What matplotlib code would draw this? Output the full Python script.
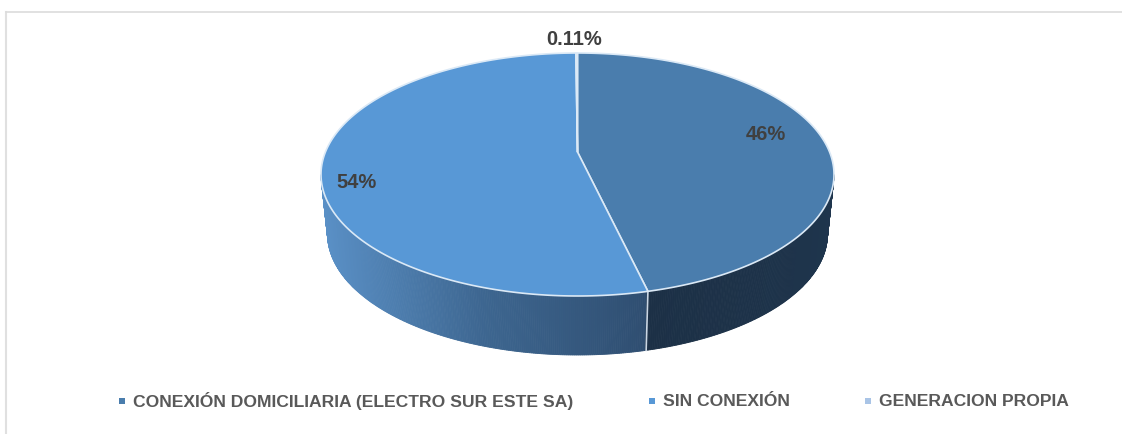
import numpy as np
import matplotlib
matplotlib.use("Agg")
import matplotlib.pyplot as plt
from matplotlib.colors import LinearSegmentedColormap

labels = ["CONEXIÓN DOMICILIARIA (ELECTRO SUR ESTE SA)", "SIN CONEXIÓN", "GENERACION PROPIA"]
values = [45.89, 54.0, 0.11]
value_labels = ["46%", "54%", "0.11%"]
colors = ["#4a7dad", "#5898d6", "#a9c4e6"]

plt.rcParams['font.family'] = ['Liberation Sans']

# everything is placed in image pixels
fig = plt.figure(figsize=(11.22, 4.34), dpi=100)
ax = fig.add_axes([0, 0, 1, 1])
ax.set_xlim(0, 1122)
ax.set_ylim(434, 0)
ax.axis('off')

# chart border, only left and top show in the crop
ax.plot([6.5, 6.5], [434, 11.5], color="#e0e0e0", lw=1.5)
ax.plot([6.5, 1122], [11.5, 11.5], color="#dcdcdc", lw=1.2)

cx, top_cy, a, b = 577.5, 174.5, 256.5, 121.5
low_a, low_cy, low_b = 250.0, 234.0, 121.0
apex = (577.5, 152)
q = 0.075  # perspective pushes the slice angles towards the viewer


def warp(deg):
    t = np.radians(deg)
    u, v = np.sin(t), np.cos(t)
    d = 1 + q * v
    return np.arctan2(u * np.sqrt(1 - q ** 2) / d, (v + q) / d) % (2 * np.pi)


def top_pt(t):
    return cx + a * np.sin(t), top_cy - b * np.cos(t)


def low_pt(t):
    return cx + low_a * np.sin(t), low_cy - low_b * np.cos(t)


edges = np.cumsum([0] + values) / sum(values) * 360

# side wall, front half only
left_wall = LinearSegmentedColormap.from_list("l", ["#2f4e71", "#3d6690", "#5a90c6"])
right_wall = LinearSegmentedColormap.from_list("r", ["#1f364e", "#1c3046"])
split = warp(edges[1])
split_x = top_pt(split)[0]
ts = np.linspace(np.pi / 2, 3 * np.pi / 2, 400)
for t0, t1 in zip(ts[:-1], ts[1:]):
    xs0, ys0 = top_pt(t0)
    xs1, ys1 = top_pt(t1)
    xb0, yb0 = low_pt(t0)
    xb1, yb1 = low_pt(t1)
    if t0 < split:
        c = right_wall((t0 - np.pi / 2) / (split - np.pi / 2))
    else:
        c = left_wall((split_x - xs0) / (split_x - (cx - a)))
    ax.fill([xs0, xs1, xb1, xb0], [ys0, ys1, yb1, yb0], color=c, lw=0.6, zorder=2)
ax.plot(*zip(top_pt(split), low_pt(split)), color="#c9d6e4", lw=1.2, zorder=3)

# top face
for i in range(3):
    ang = np.linspace(edges[i], edges[i + 1], 200)
    t = np.unwrap(np.array([warp(d) for d in ang]))
    px, py = top_pt(t)
    ax.fill(np.r_[apex[0], px], np.r_[apex[1], py], facecolor=colors[i],
            edgecolor="#dbe9f6", lw=1.2, zorder=4, joinstyle='round')

# data labels
label_pos = [(766, 140), (356.5, 188), (574.5, 45)]
for txt, (x, y) in zip(value_labels, label_pos):
    ax.text(x, y, txt, ha='center', va='baseline', fontsize=14.5, fontweight='bold',
            color="#404040", zorder=5)

# legend
legend_x = [122, 652.5, 868]
for i, lab in enumerate(labels):
    ax.scatter(legend_x[i], 400.5, marker='s', s=24, color=colors[i], lw=0)
    ax.text(legend_x[i] + 11, 406.5, lab, ha='left', va='baseline', fontsize=12.6,
            fontweight='bold', color="#595959")

fig.savefig("out.png", dpi=100)
